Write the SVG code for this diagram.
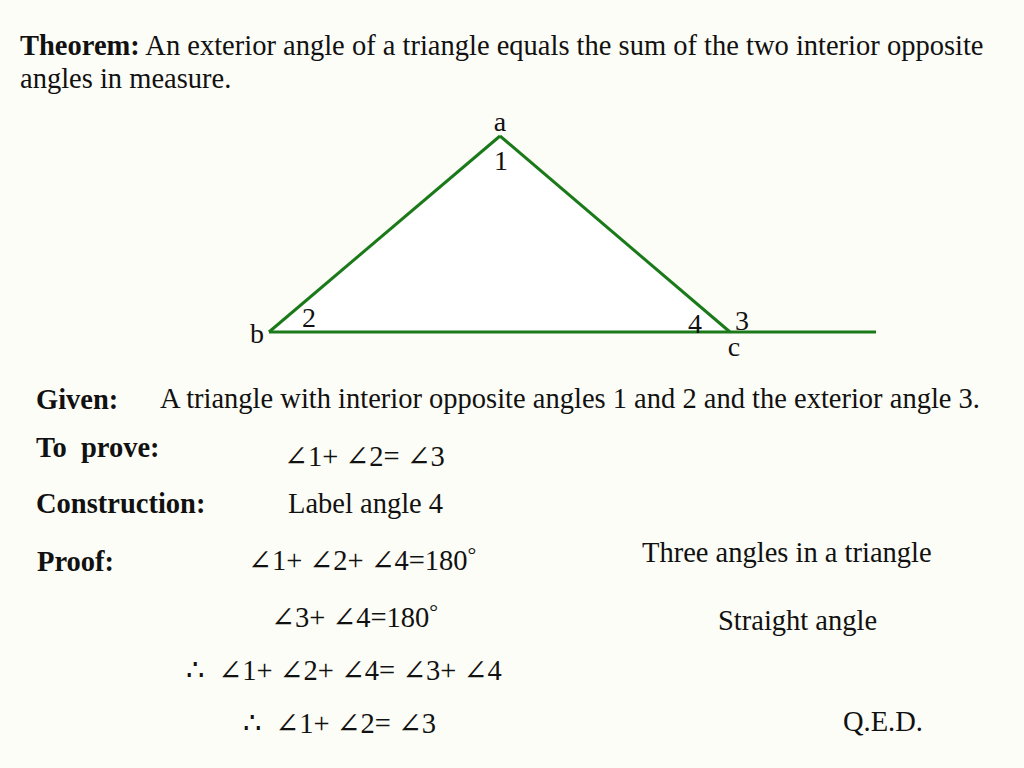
<svg xmlns="http://www.w3.org/2000/svg" width="1024" height="768" viewBox="0 0 1024 768">
<style>
text{font-family:"Liberation Serif","DejaVu Serif",serif;font-size:28.5px;fill:#111;white-space:pre}
.b{font-weight:bold}
.lbl{text-anchor:middle;font-size:28px}
.edge{stroke:#1a7a1a;stroke-width:3;fill:none}
.deg{font-size:22px}
</style>
<rect width="1024" height="768" fill="#fdfdf7"/>
<text x="20" y="55"><tspan class="b">Theorem:</tspan> An exterior angle of a triangle equals the sum of the two interior opposite</text>
<text x="20" y="88">angles in measure.</text>
<g id="triangle">
<polygon points="500,136 269,332 730,332" fill="#ffffff" stroke="none"/>
</g>
<g id="connectors">
<line class="edge" x1="269" y1="332" x2="500" y2="136"/>
<line class="edge" x1="500" y1="136" x2="730" y2="332"/>
<line class="edge" x1="269" y1="332" x2="876" y2="332"/>
</g>
<g id="labels">
<text class="lbl" x="500" y="131">a</text>
<text class="lbl" x="501" y="170">1</text>
<text class="lbl" x="309" y="327">2</text>
<text class="lbl" x="257" y="343">b</text>
<text class="lbl" x="695" y="333">4</text>
<text class="lbl" x="742" y="330">3</text>
<text class="lbl" x="734" y="356">c</text>
</g>
<g id="proof">
<text class="b" x="36" y="409">Given:</text>
<text x="160" y="408">A triangle with interior opposite angles 1 and 2 and the exterior angle 3.</text>
<text class="b" x="36" y="457">To  prove:</text>
<text x="284" y="466">∠1+ ∠2= ∠3</text>
<text class="b" x="36" y="513">Construction:</text>
<text x="288" y="513">Label angle 4</text>
<text class="b" x="37" y="571">Proof:</text>
<text x="248" y="570">∠1+ ∠2+ ∠4=180<tspan class="deg" dy="-8">°</tspan></text>
<text x="642" y="562">Three angles in a triangle</text>
<text x="271" y="627">∠3+ ∠4=180<tspan class="deg" dy="-8">°</tspan></text>
<text x="718" y="630">Straight angle</text>
<text x="186" y="680">∴  ∠1+ ∠2+ ∠4= ∠3+ ∠4</text>
<text x="243" y="733">∴  ∠1+ ∠2= ∠3</text>
<text x="843" y="731">Q.E.D.</text>
</g>
</svg>
